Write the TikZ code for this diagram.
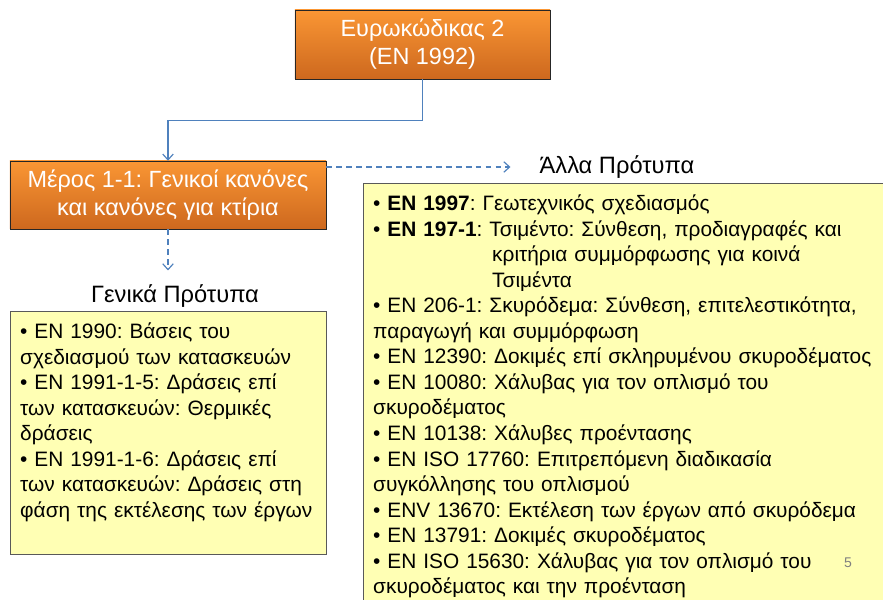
\documentclass[tikz,border=0pt]{standalone}
\usepackage{fontspec}
\setmainfont{Liberation Sans}
\usetikzlibrary{arrows.meta,positioning}

\definecolor{orangetop}{RGB}{250,150,52}
\definecolor{orangebot}{RGB}{205,104,30}
\definecolor{notefill}{RGB}{255,255,180}
\definecolor{linkblue}{RGB}{79,129,189}

\tikzset{
  partbox/.style={rectangle, draw=black!85, top color=orangetop, bottom color=orangebot,
    text=white, align=center, font=\fontsize{20}{24}\selectfont},
  notebox/.style={rectangle, draw=black!65, fill=notefill, align=left, anchor=north west,
    inner xsep=0.3cm, inner ysep=0.35cm, font=\fontsize{17.8}{21.8}\selectfont},
  heading/.style={font=\fontsize{20.2}{24}\selectfont},
  link/.style={draw=linkblue, line width=1pt, -{Straight Barb[length=5pt,width=9pt]}},
  dashlink/.style={link, dash pattern=on 5pt off 3.5pt},
}

\begin{document}
\frenchspacing
\begin{tikzpicture}[x=0.03cm, y=-0.03cm]
    \clip (0,0) rectangle (883,600);

    \node [partbox, minimum width=7.65cm, minimum height=2.07cm] (euro) at (422.5,44.5) {Ευρωκώδικας 2\\(EN 1992)};
    \node [partbox, minimum width=9.48cm, minimum height=2.04cm] (part) at (168,195) {Μέρος 1-1: Γενικοί κανόνες\\και κανόνες για κτίρια};
    \node [heading] (genika) at (175,296) {Γενικά Πρότυπα};
    \node [heading] (alla) at (617,167) {Άλλα Πρότυπα};

    \node [notebox, text width=8.88cm] (general) at (10,311) {%
• EN 1990: Βάσεις του\\
σχεδιασμού των κατασκευών\\
• EN 1991-1-5: Δράσεις επί\\
των κατασκευών: Θερμικές\\
δράσεις\\
• EN 1991-1-6: Δράσεις επί\\
των κατασκευών: Δράσεις στη\\
φάση της εκτέλεσης των έργων\\
\mbox{}};

    \node [notebox, text width=15.6cm] (other) at (363,183) {%
• \textbf{EN 1997}: Γεωτεχνικός σχεδιασμός\\
• \textbf{EN 197-1}: Τσιμέντο: Σύνθεση, προδιαγραφές και\\
\hspace*{3.57cm}κριτήρια συμμόρφωσης για κοινά\\
\hspace*{3.57cm}Τσιμέντα\\
• EN 206-1: Σκυρόδεμα: Σύνθεση, επιτελεστικότητα,\\
παραγωγή και συμμόρφωση\\
• EN 12390: Δοκιμές επί σκληρυμένου σκυροδέματος\\
• EN 10080: Χάλυβας για τον οπλισμό του\\
σκυροδέματος\\
• EN 10138: Χάλυβες προέντασης\\
• EN ISO 17760: Επιτρεπόμενη διαδικασία\\
συγκόλλησης του οπλισμού\\
• ENV 13670: Εκτέλεση των έργων από σκυρόδεμα\\
• EN 13791: Δοκιμές σκυροδέματος\\
• EN ISO 15630: Χάλυβας για τον οπλισμό του\\
σκυροδέματος και την προένταση\\
\mbox{}};

    \node [text=black!50, font=\fontsize{12}{14}\selectfont] (pagenum) at (848,563) {5};

    \draw[link] (euro.south) -- ++(0,41) -| (part.north);
    \draw[dashlink, shorten >=0.75cm] (part.east |- alla.west) -- (alla.west);
    \draw[dashlink, shorten >=0.3cm] (part.south) -- (part.south |- genika.north);
\end{tikzpicture}
\end{document}
